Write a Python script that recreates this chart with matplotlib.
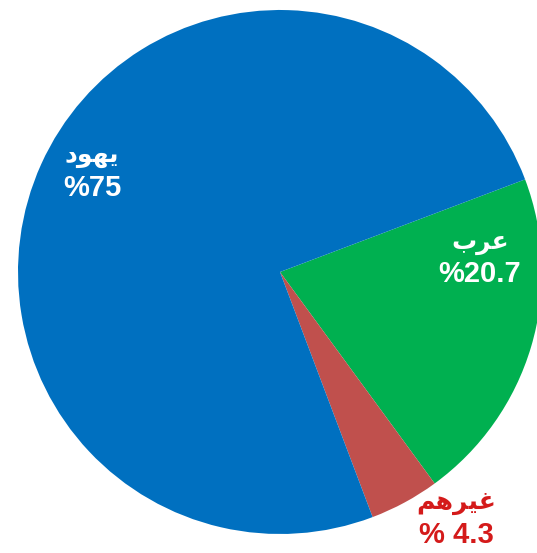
import matplotlib
matplotlib.use("Agg")
import matplotlib.pyplot as plt

# Data
categories = ["عرب", "غيرهم", "يهود"]
values = [20.7, 4.3, 75.0]
pct_labels = ["%20.7", "% 4.3", "%75"]
colors = ["#00B050", "#C0504D", "#0070C0"]
label_colors = ["white", "#D41A1A", "white"]

# Minimal Arabic shaping (presentation forms) -> visual order
FORMS = {
    "ي": ("\uFEF1", "\uFEF2", "\uFEF3", "\uFEF4"),
    "ه": ("\uFEE9", "\uFEEA", "\uFEEB", "\uFEEC"),
    "و": ("\uFEED", "\uFEEE", None, None),
    "د": ("\uFEA9", "\uFEAA", None, None),
    "ع": ("\uFEC9", "\uFECA", "\uFECB", "\uFECC"),
    "ر": ("\uFEAD", "\uFEAE", None, None),
    "ب": ("\uFE8F", "\uFE90", "\uFE91", "\uFE92"),
    "غ": ("\uFECD", "\uFECE", "\uFECF", "\uFED0"),
    "م": ("\uFEE1", "\uFEE2", "\uFEE3", "\uFEE4"),
}


def shape(word):
    out = []
    n = len(word)
    for i, ch in enumerate(word):
        f = FORMS.get(ch)
        if f is None:
            out.append(ch)
            continue
        prev_joins = i > 0 and FORMS.get(word[i - 1]) is not None and FORMS[word[i - 1]][2] is not None
        next_exists = i < n - 1 and FORMS.get(word[i + 1]) is not None
        can_join_next = f[2] is not None and next_exists
        if prev_joins and can_join_next:
            out.append(f[3])
        elif prev_joins:
            out.append(f[1])
        elif can_join_next:
            out.append(f[2])
        else:
            out.append(f[0])
    return "".join(reversed(out))


W, H = 537, 553
CX, CY, R = 280, 272, 262

fig = plt.figure(figsize=(W / 100, H / 100), dpi=100)
ax = fig.add_axes([0, 0, 1, 1])
ax.pie(values, colors=colors, startangle=20.7, counterclock=False,
       radius=1.0, wedgeprops=dict(linewidth=0))
ax.set_xlim(-CX / R, (W - CX) / R)
ax.set_ylim(-(H - CY) / R, CY / R)
ax.set_aspect("equal")
ax.axis("off")


def px(x, y):
    return (x - CX) / R, (CY - y) / R


# label pixel positions (name line, pct line)
label_pos = [((480, 243), (480, 274)), ((456, 503), (456, 535)), ((92, 156), (92, 188))]
fam = ["Liberation Sans", "DejaVu Sans"]
for cat, pct, col, (p1, p2) in zip(categories, pct_labels, label_colors, label_pos):
    ax.text(*px(*p1), shape(cat), ha="center", va="center", color=col,
            fontsize=18, fontweight="bold", family=fam)
    ax.text(*px(*p2), pct, ha="center", va="center", color=col,
            fontsize=21, fontweight="bold", family=fam)

fig.savefig("out.png", dpi=100)
